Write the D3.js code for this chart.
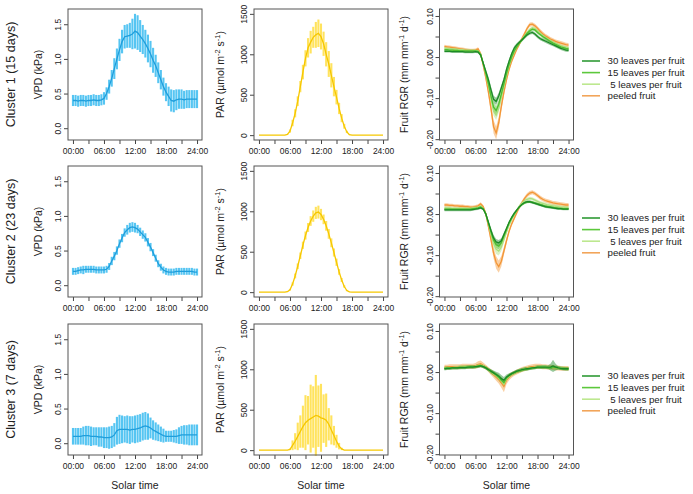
<!DOCTYPE html>
<html><head><meta charset="utf-8">
<script src="https://cdn.jsdelivr.net/npm/d3@7"></script>
<style>
body{margin:0;background:#fff}
text{font-family:"Liberation Sans",Arial,sans-serif;fill:#222}
</style>
</head><body>
<svg id="chart" width="693" height="494"></svg>
<script>
// ---------- data (half-hourly, 00:00 .. 24:00) ----------
const hours = d3.range(0, 24.001, 0.5);
const xTickHours = [0,3,6,9,12,15,18,21,24];
const xTickLabels = ["00:00","","06:00","","12:00","","18:00","","24:00"];
const vpdTicks = [0,0.5,1.0,1.5];
const vpdTickLabels = ["0.0","0.5","1.0","1.5"];
const parTicks = [0,500,1000,1500];
const parTickLabels = ["0","500","1000","1500"];
const rgrTicks = [-0.20,-0.15,-0.10,-0.05,0.00,0.05,0.10];
const rgrTickLabels = ["-0.20","","-0.10","","0.00","","0.10"];
const rowLabels = ["Cluster 1 (15 days)","Cluster 2 (23 days)","Cluster 3 (7 days)"];
const seriesNames = ["30 leaves per fruit","15 leaves per fruit"," 5 leaves per fruit","peeled fruit"];

// Cluster 1
const c1VpdMean = [.40,.40,.39,.40,.40,.39,.40,.40,.41,.40,.40,.41,.43,.50,.60,.72,.86,1.00,1.13,1.25,1.32,1.33,1.34,1.36,1.40,1.38,1.33,1.28,1.22,1.15,1.07,.98,.90,.80,.70,.60,.52,.46,.40,.39,.41,.42,.42,.41,.42,.42,.42,.42,.42];
const c1VpdSd = [.08,.08,.08,.08,.08,.08,.08,.08,.08,.08,.08,.08,.09,.09,.10,.12,.15,.15,.16,.17,.17,.17,.18,.22,.25,.25,.23,.21,.20,.20,.19,.18,.16,.15,.14,.13,.13,.14,.16,.16,.15,.14,.14,.13,.13,.13,.13,.13,.13];
const c1ParMean = [0,0,0,0,0,0,0,0,0,0,0,10,50,150,270,420,600,780,950,1080,1150,1210,1240,1260,1220,1130,1000,880,740,600,470,330,210,110,40,5,0,0,0,0,0,0,0,0,0,0,0,0,0];
const c1ParSd = [0,0,0,0,0,0,0,0,0,0,0,5,20,40,50,60,70,90,100,120,140,130,160,170,160,150,150,160,150,120,90,70,50,30,15,5,0,0,0,0,0,0,0,0,0,0,0,0,0];
const c1L30 = [.014,.014,.014,.013,.013,.013,.013,.013,.012,.012,.012,.012,.013,.012,.005,-.015,-.035,-.055,-.080,-.103,-.108,-.095,-.075,-.055,-.030,-.010,.008,.022,.030,.036,.042,.048,.054,.058,.060,.056,.050,.045,.042,.039,.036,.033,.030,.027,.024,.021,.019,.017,.016];
const c1L15 = [.018,.018,.017,.017,.016,.016,.015,.015,.015,.015,.015,.015,.015,.014,.006,-.016,-.040,-.065,-.095,-.122,-.130,-.115,-.090,-.065,-.040,-.018,.000,.015,.025,.034,.042,.050,.058,.064,.068,.066,.060,.055,.050,.046,.042,.038,.034,.031,.028,.025,.023,.021,.020];
const c1L5 = [.022,.021,.021,.020,.020,.019,.018,.018,.017,.017,.016,.016,.016,.015,.007,-.016,-.042,-.070,-.100,-.132,-.142,-.125,-.098,-.072,-.046,-.022,-.003,.012,.024,.034,.043,.052,.060,.067,.071,.069,.064,.058,.053,.048,.044,.040,.036,.033,.030,.027,.025,.023,.022];
const c1Peel = [.026,.025,.024,.023,.022,.021,.020,.019,.018,.017,.016,.016,.017,.020,.008,-.020,-.050,-.085,-.125,-.170,-.185,-.160,-.120,-.085,-.055,-.030,-.010,.005,.020,.032,.045,.057,.070,.079,.080,.076,.070,.063,.057,.052,.048,.044,.041,.038,.036,.034,.032,.030,.029];
const c1L30Sd = [.003,.003,.003,.003,.003,.003,.003,.003,.003,.003,.003,.003,.003,.003,.004,.005,.006,.007,.008,.009,.009,.008,.007,.006,.006,.005,.005,.005,.004,.004,.004,.004,.004,.004,.004,.004,.004,.004,.004,.004,.004,.004,.004,.004,.004,.004,.004,.004,.004];
const c1L15Sd = [.003,.003,.003,.003,.003,.003,.003,.003,.003,.003,.003,.003,.003,.003,.004,.006,.007,.008,.010,.011,.011,.010,.008,.007,.006,.005,.005,.005,.004,.004,.004,.004,.004,.004,.004,.004,.004,.004,.004,.004,.004,.004,.004,.004,.004,.004,.004,.004,.004];
const c1L5Sd = [.003,.003,.003,.003,.003,.003,.003,.003,.003,.003,.003,.003,.003,.003,.004,.006,.007,.008,.010,.011,.011,.010,.008,.007,.006,.005,.005,.005,.004,.004,.004,.004,.004,.004,.004,.004,.004,.004,.004,.004,.004,.004,.004,.004,.004,.004,.004,.004,.004];
const c1PeelSd = [.004,.004,.004,.004,.004,.004,.004,.004,.004,.004,.004,.004,.004,.004,.005,.007,.009,.011,.013,.016,.016,.014,.012,.010,.008,.006,.006,.005,.005,.005,.005,.005,.005,.005,.005,.005,.005,.005,.005,.005,.005,.005,.005,.005,.005,.005,.005,.005,.005];

// Cluster 2
const c2VpdMean = [.20,.20,.21,.22,.22,.23,.23,.23,.23,.22,.22,.22,.22,.23,.27,.35,.42,.50,.60,.68,.76,.80,.83,.84,.83,.81,.77,.73,.69,.62,.55,.47,.39,.31,.26,.22,.20,.19,.19,.19,.20,.20,.20,.20,.20,.20,.20,.19,.19];
const c2VpdSd = [.05,.05,.05,.05,.06,.05,.05,.05,.05,.05,.05,.05,.05,.05,.05,.06,.06,.06,.06,.06,.06,.07,.07,.07,.07,.06,.06,.06,.06,.06,.06,.05,.05,.05,.05,.05,.05,.05,.05,.05,.05,.05,.05,.05,.05,.05,.05,.05,.05];
const c2ParMean = [0,0,0,0,0,0,0,0,0,0,0,5,30,100,200,320,450,580,700,800,880,940,980,990,960,900,820,720,610,490,370,250,150,70,20,3,0,0,0,0,0,0,0,0,0,0,0,0,0];
const c2ParSd = [0,0,0,0,0,0,0,0,0,0,0,3,10,20,30,35,40,45,50,55,60,70,75,80,70,60,60,60,55,50,45,35,25,15,8,2,0,0,0,0,0,0,0,0,0,0,0,0,0];
const c2L30 = [.010,.010,.010,.010,.010,.010,.010,.010,.010,.010,.010,.011,.012,.013,.015,.012,.000,-.020,-.040,-.058,-.068,-.070,-.065,-.050,-.035,-.020,-.008,.002,.010,.018,.024,.028,.030,.030,.028,.026,.024,.022,.020,.018,.017,.016,.015,.014,.013,.013,.012,.012,.012];
const c2L15 = [.012,.012,.012,.012,.012,.012,.012,.012,.012,.012,.012,.013,.014,.015,.017,.013,.000,-.022,-.044,-.064,-.075,-.078,-.070,-.054,-.038,-.022,-.010,.000,.009,.017,.023,.027,.029,.030,.029,.027,.025,.023,.021,.019,.018,.017,.016,.015,.014,.014,.013,.013,.013];
const c2L5 = [.015,.015,.015,.014,.014,.014,.014,.014,.014,.014,.014,.015,.016,.017,.019,.014,.000,-.024,-.050,-.072,-.086,-.090,-.080,-.062,-.044,-.027,-.013,-.002,.009,.019,.027,.033,.036,.038,.037,.034,.031,.028,.026,.024,.022,.021,.020,.019,.018,.017,.017,.016,.016];
const c2Peel = [.022,.022,.021,.021,.020,.020,.019,.019,.018,.018,.017,.017,.018,.020,.025,.018,.000,-.030,-.062,-.095,-.118,-.128,-.115,-.090,-.065,-.042,-.024,-.010,.004,.017,.028,.038,.046,.051,.053,.050,.045,.040,.036,.033,.031,.029,.027,.026,.025,.024,.023,.022,.022];
const c2L30Sd = [.003,.003,.003,.003,.003,.003,.003,.003,.003,.003,.003,.003,.003,.003,.003,.003,.004,.005,.006,.007,.007,.007,.006,.005,.004,.003,.003,.003,.003,.003,.003,.003,.003,.003,.003,.003,.003,.003,.003,.003,.003,.003,.003,.003,.003,.003,.003,.003,.003];
const c2L15Sd = [.003,.003,.003,.003,.003,.003,.003,.003,.003,.003,.003,.003,.003,.003,.003,.003,.005,.006,.007,.008,.008,.008,.007,.006,.005,.003,.003,.003,.003,.003,.003,.003,.003,.003,.003,.003,.003,.003,.003,.003,.003,.003,.003,.003,.003,.003,.003,.003,.003];
const c2L5Sd = [.004,.004,.004,.004,.004,.004,.004,.004,.004,.004,.004,.004,.004,.004,.004,.004,.006,.008,.010,.011,.011,.011,.010,.008,.006,.004,.004,.004,.004,.004,.004,.004,.004,.004,.004,.004,.004,.004,.004,.004,.004,.004,.004,.004,.004,.004,.004,.004,.004];
const c2PeelSd = [.004,.004,.004,.004,.004,.004,.004,.004,.004,.004,.004,.004,.004,.004,.004,.004,.006,.008,.010,.013,.015,.015,.013,.010,.008,.005,.005,.005,.005,.005,.005,.005,.005,.005,.005,.005,.005,.005,.005,.005,.005,.005,.005,.005,.005,.005,.005,.005,.005];

// Cluster 3
const c3VpdMean = [.10,.10,.10,.10,.11,.11,.11,.10,.10,.10,.09,.09,.08,.08,.08,.09,.12,.18,.20,.20,.20,.20,.19,.20,.20,.21,.22,.24,.25,.24,.22,.19,.17,.15,.13,.11,.10,.10,.10,.10,.10,.11,.12,.12,.12,.12,.12,.12,.12];
const c3VpdSd = [.12,.12,.12,.12,.13,.14,.14,.14,.13,.13,.14,.14,.15,.15,.16,.16,.17,.20,.21,.20,.19,.20,.20,.19,.20,.20,.20,.20,.20,.19,.15,.14,.13,.12,.11,.10,.08,.08,.08,.09,.10,.12,.13,.14,.14,.15,.15,.15,.15];
const c3ParMean = [0,0,0,0,0,0,0,0,0,0,0,0,10,60,110,170,230,290,340,370,390,410,430,420,400,390,370,320,250,180,110,50,15,0,0,0,0,0,0,0,0,0,0,0,0,0,0,0,0];
const c3ParSd = [0,0,0,0,0,0,0,0,0,0,0,0,10,60,100,170,200,260,340,300,420,380,500,380,420,300,330,200,180,120,80,40,15,0,0,0,0,0,0,0,0,0,0,0,0,0,0,0,0];
const c3L30 = [.008,.009,.009,.010,.010,.010,.011,.011,.011,.012,.012,.012,.013,.014,.015,.013,.010,.006,.002,-.002,-.006,-.010,-.016,-.020,-.012,-.008,-.004,-.001,.002,.004,.006,.007,.008,.009,.010,.011,.012,.012,.012,.012,.012,.012,.015,.012,.010,.009,.008,.008,.008];
const c3L15 = [.009,.010,.010,.011,.011,.011,.012,.012,.012,.012,.013,.013,.013,.015,.016,.014,.011,.006,.001,-.003,-.008,-.013,-.020,-.026,-.015,-.009,-.005,-.002,.001,.003,.005,.007,.008,.009,.010,.011,.012,.012,.012,.012,.011,.011,.012,.011,.010,.009,.009,.008,.008];
const c3L5 = [.010,.011,.011,.011,.012,.012,.012,.012,.013,.013,.013,.013,.014,.016,.017,.015,.011,.006,.000,-.004,-.009,-.015,-.022,-.030,-.017,-.010,-.006,-.002,.001,.004,.006,.008,.009,.010,.011,.012,.013,.013,.013,.013,.012,.012,.011,.011,.010,.010,.009,.009,.009];
const c3Peel = [.012,.012,.013,.013,.013,.013,.013,.014,.014,.014,.014,.014,.015,.018,.020,.016,.012,.006,.000,-.006,-.012,-.018,-.026,-.035,-.020,-.012,-.007,-.003,.000,.003,.006,.008,.010,.012,.013,.014,.014,.014,.013,.013,.012,.012,.011,.010,.010,.009,.009,.009,.009];
const c3L30Sd = [.004,.004,.004,.004,.004,.004,.004,.004,.004,.004,.004,.004,.004,.004,.004,.004,.004,.004,.005,.006,.007,.008,.009,.008,.006,.005,.004,.004,.004,.004,.004,.004,.004,.004,.004,.004,.004,.004,.004,.004,.004,.008,.015,.008,.004,.004,.004,.004,.004];
const c3L15Sd = [.004,.004,.004,.004,.004,.004,.004,.004,.004,.004,.004,.004,.004,.004,.004,.004,.004,.004,.005,.005,.006,.007,.008,.007,.005,.005,.004,.004,.004,.004,.004,.004,.004,.004,.004,.004,.004,.004,.004,.004,.004,.004,.004,.004,.004,.004,.004,.004,.004];
const c3L5Sd = [.004,.004,.004,.004,.004,.004,.004,.004,.004,.004,.004,.004,.004,.004,.004,.004,.004,.004,.005,.005,.006,.007,.008,.007,.005,.005,.004,.004,.004,.004,.004,.004,.004,.004,.004,.004,.004,.004,.004,.004,.004,.004,.004,.004,.004,.004,.004,.004,.004];
const c3PeelSd = [.006,.006,.006,.006,.006,.006,.006,.006,.006,.006,.006,.006,.007,.008,.008,.007,.006,.006,.007,.008,.009,.010,.012,.014,.010,.008,.007,.006,.006,.006,.006,.006,.006,.006,.006,.006,.006,.006,.006,.006,.006,.006,.006,.006,.006,.006,.006,.006,.006];

// ---------- styling ----------
const vpdBarColor = "#56c5f2", vpdLineColor = "#1f9edc";
const parBarColor = "#ffe35e", parLineColor = "#f6c700";
const rgrLineColors = ["#1c8a26","#4fbf2e","#addf7e","#f39636"];
const rgrLegendColors = ["#2f9a35","#5cc83c","#bde88f","#f2a55a"];

const rows = [
  {vpd:[c1VpdMean,c1VpdSd], par:[c1ParMean,c1ParSd], rgr:[[c1L30,c1L30Sd],[c1L15,c1L15Sd],[c1L5,c1L5Sd],[c1Peel,c1PeelSd]]},
  {vpd:[c2VpdMean,c2VpdSd], par:[c2ParMean,c2ParSd], rgr:[[c2L30,c2L30Sd],[c2L15,c2L15Sd],[c2L5,c2L5Sd],[c2Peel,c2PeelSd]]},
  {vpd:[c3VpdMean,c3VpdSd], par:[c3ParMean,c3ParSd], rgr:[[c3L30,c3L30Sd],[c3L15,c3L15Sd],[c3L5,c3L5Sd],[c3Peel,c3PeelSd]]}
];

// ---------- layout ----------
const rowTops = [9, 166, 324];
const colLefts = [68, 254, 439.5];
const boxW = 134, boxH = 131;
const svg = d3.select("#chart");
const tickFont = 8.5;

function panel(col, row) {
  return svg.append("g").attr("transform", `translate(${colLefts[col]},${rowTops[row]})`);
}

function drawAxes(g, y, ticks, labels) {
  const x = d3.scaleLinear().domain([-0.96, 24.96]).range([0, boxW]);
  const xa = g.append("g").attr("transform", `translate(0,${boxH})`)
    .call(d3.axisBottom(x).tickValues(xTickHours).tickFormat((d,i)=>xTickLabels[i]).tickSize(4).tickPadding(3.5));
  xa.select(".domain").remove();
  xa.selectAll("line").attr("stroke","#444");
  xa.selectAll("text").attr("font-size", tickFont).attr("fill","#222");
  const ya = g.append("g")
    .call(d3.axisLeft(y).tickValues(ticks).tickFormat((d,i)=>labels[i]).tickSize(4));
  ya.select(".domain").remove();
  ya.selectAll("line").attr("stroke","#444");
  ya.selectAll("text").attr("font-size", tickFont).attr("fill","#222")
    .attr("transform","rotate(-90)").attr("x",0).attr("y",-7).attr("dy","0").attr("text-anchor","middle");
  g.append("rect").attr("width", boxW).attr("height", boxH).attr("fill","none").attr("stroke","#555").attr("stroke-width",1);
  return x;
}

function errorPanel(g, y, mean, sd, barColor, lineColor, ticks, labels) {
  const x = d3.scaleLinear().domain([-0.96, 24.96]).range([0, boxW]);
  g.selectAll("line.bar").data(hours).join("line")
    .attr("x1", d => x(d)).attr("x2", d => x(d))
    .attr("y1", (d,i) => y(mean[i] - sd[i])).attr("y2", (d,i) => y(mean[i] + sd[i]))
    .attr("stroke", barColor).attr("stroke-width", 2.1);
  g.append("path").datum(hours)
    .attr("d", d3.line().x(d => x(d)).y((d,i) => y(mean[i])))
    .attr("fill","none").attr("stroke", lineColor).attr("stroke-width", 1.3);
  drawAxes(g, y, ticks, labels);
}

rows.forEach((r, ri) => {
  // VPD
  const g1 = panel(0, ri);
  const yV = d3.scaleLinear().domain([-0.17, 1.72]).range([boxH, 0]);
  errorPanel(g1, yV, r.vpd[0], r.vpd[1], vpdBarColor, vpdLineColor, vpdTicks, vpdTickLabels);
  // PAR
  const g2 = panel(1, ri);
  const yP = d3.scaleLinear().domain([-60, 1560]).range([boxH, 0]);
  errorPanel(g2, yP, r.par[0], r.par[1], parBarColor, parLineColor, parTicks, parTickLabels);
  // RGR
  const g3 = panel(2, ri);
  const yR = d3.scaleLinear().domain([-0.202, 0.117]).range([boxH, 0]);
  const x = d3.scaleLinear().domain([-0.96, 24.96]).range([0, boxW]);
  const order = [3, 2, 1, 0];
  order.forEach(si => {
    const [m, s] = r.rgr[si];
    g3.append("path").datum(hours)
      .attr("d", d3.area().x(d => x(d)).y0((d,i) => yR(m[i] - s[i])).y1((d,i) => yR(m[i] + s[i])))
      .attr("fill", rgrLineColors[si]).attr("opacity", 0.45);
  });
  order.forEach(si => {
    const m = r.rgr[si][0];
    g3.append("path").datum(hours)
      .attr("d", d3.line().x(d => x(d)).y((d,i) => yR(m[i])))
      .attr("fill","none").attr("stroke", rgrLineColors[si]).attr("stroke-width", 1.3);
  });
  drawAxes(g3, yR, rgrTicks, rgrTickLabels);

  // legend
  const lg = svg.append("g").attr("transform", `translate(0,${rowTops[ri] + 52})`);
  seriesNames.forEach((name, i) => {
    lg.append("line").attr("x1", 582).attr("x2", 600).attr("y1", i*11.6).attr("y2", i*11.6)
      .attr("stroke", rgrLegendColors[i]).attr("stroke-width", 1.6);
    lg.append("text").attr("x", 607.5).attr("y", i*11.6).attr("dy", "0.35em")
      .attr("font-size", 9.7).style("white-space","pre").text(name);
  });

  // row label and y titles
  const cy = rowTops[ri] + boxH/2;
  svg.append("text").attr("transform", `translate(14.5,${cy}) rotate(-90)`)
    .attr("text-anchor","middle").attr("font-size", 12.5).text(rowLabels[ri]);
  svg.append("text").attr("transform", `translate(41.7,${cy}) rotate(-90)`)
    .attr("text-anchor","middle").attr("font-size", 10.5).text("VPD (kPa)");
  const pt = svg.append("text").attr("transform", `translate(224,${cy}) rotate(-90)`)
    .attr("text-anchor","middle").attr("font-size", 10.5);
  pt.append("tspan").text("PAR (\u00b5mol m");
  pt.append("tspan").attr("font-size", 7.5).attr("dy", -4).text("-2");
  pt.append("tspan").attr("dy", 4).text(" s");
  pt.append("tspan").attr("font-size", 7.5).attr("dy", -4).text("-1");
  pt.append("tspan").attr("dy", 4).text(")");
  const rt = svg.append("text").attr("transform", `translate(408,${cy}) rotate(-90)`)
    .attr("text-anchor","middle").attr("font-size", 10.5);
  rt.append("tspan").text("Fruit RGR (mm mm");
  rt.append("tspan").attr("font-size", 7.5).attr("dy", -4).text("-1");
  rt.append("tspan").attr("dy", 4).text(" d");
  rt.append("tspan").attr("font-size", 7.5).attr("dy", -4).text("-1");
  rt.append("tspan").attr("dy", 4).text(")");
});

// x titles
colLefts.forEach(l => {
  svg.append("text").attr("x", l + boxW/2).attr("y", 489).attr("text-anchor","middle")
    .attr("font-size", 10.5).text("Solar time");
});
</script>
</body></html>
